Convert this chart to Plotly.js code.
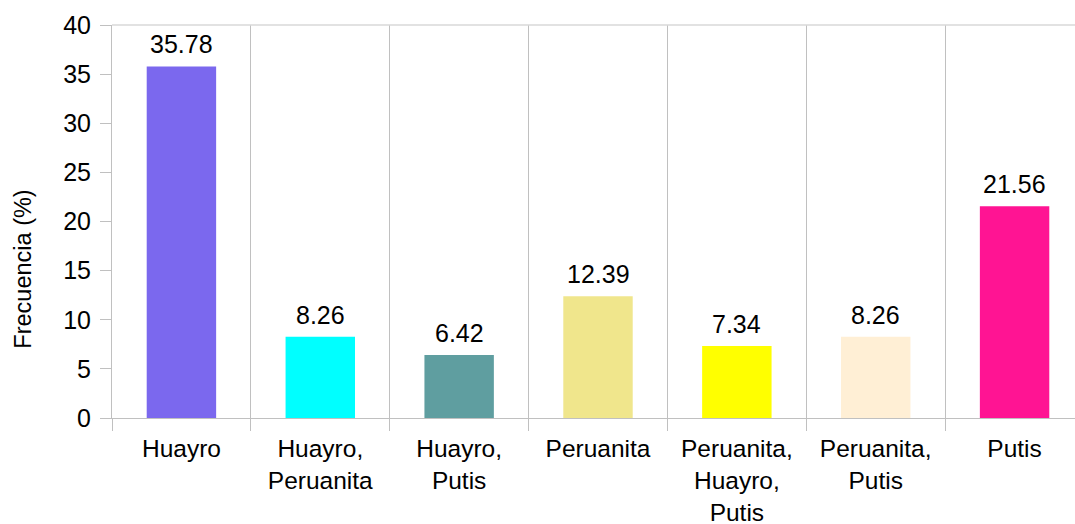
<!DOCTYPE html>
<html>
<head>
<meta charset="utf-8">
<script src="https://cdn.plot.ly/plotly-3.0.1.min.js"></script>
<style>
  html, body { margin: 0; padding: 0; overflow: hidden; background: #fff; }
  #chart { width: 1090px; height: 524px; }
</style>
</head>
<body>
<div id="chart"></div>
<script>
const categories = [
  'Huayro',
  'Huayro,<br>Peruanita',
  'Huayro,<br>Putis',
  'Peruanita',
  'Peruanita,<br>Huayro,<br>Putis',
  'Peruanita,<br>Putis',
  'Putis',
];
const frecuencia = [35.78, 8.26, 6.42, 12.39, 7.34, 8.26, 21.56];
const barColors = ['#7B68EE', '#00FFFF', '#5F9EA0', '#F0E68C', '#FFFF00', '#FFEFD5', '#FF1493'];
const yTicks = [0, 5, 10, 15, 20, 25, 30, 35, 40];

const FONT = 'Liberation Sans, Arial, sans-serif';
const GRID = '#c0c0c0';

const trace = {
  type: 'bar',
  x: categories,
  y: frecuencia,
  marker: { color: barColors, line: { width: 0 } },
  hoverinfo: 'x+y',
};

const labels = categories.map((c, i) => ({
  x: c, y: frecuencia[i],
  xref: 'x', yref: 'y',
  text: frecuencia[i].toFixed(2),
  showarrow: false,
  yanchor: 'bottom',
  yshift: 6,
  font: { family: FONT, size: 25, color: '#000' },
}));

labels.push({
  xref: 'paper', yref: 'paper',
  x: -0.092, y: 0.379,
  xanchor: 'center', yanchor: 'middle',
  text: 'Frecuencia (%)',
  textangle: -90,
  showarrow: false,
  font: { family: FONT, size: 23.5, color: '#000' },
});

Plotly.newPlot('chart', [trace], {
  width: 1090, height: 524,
  margin: { l: 112, r: 6, t: 25, b: 106 },
  paper_bgcolor: '#fff',
  plot_bgcolor: '#fff',
  bargap: 0.5,
  showlegend: false,
  font: { family: FONT, size: 25, color: '#000' },
  xaxis: {
    type: 'category',
    tickson: 'boundaries',
    showgrid: true, gridcolor: GRID, gridwidth: 1,
    showline: true, linecolor: GRID, linewidth: 1,
    ticks: 'outside', ticklen: 12, tickcolor: GRID,
    ticklabelstandoff: 9,
    tickfont: { family: FONT, size: 24.5, color: '#000' },
    fixedrange: true,
  },
  yaxis: {
    range: [0, 40],
    tickvals: yTicks,
    ticktext: yTicks.map(String),
    showgrid: false, zeroline: false,
    showline: true, linecolor: GRID, linewidth: 1,
    ticks: 'outside', ticklen: 11, tickcolor: GRID,
    ticklabelstandoff: 4,
    tickfont: { family: FONT, size: 25, color: '#000' },
    fixedrange: true,
  },
  shapes: [{
    type: 'line', xref: 'paper', yref: 'paper',
    x0: 0, x1: 1, y0: 1, y1: 1,
    line: { color: '#d9d9d9', width: 1.5 },
  }],
  annotations: labels,
}, { displayModeBar: false, staticPlot: true });
</script>
</body>
</html>
